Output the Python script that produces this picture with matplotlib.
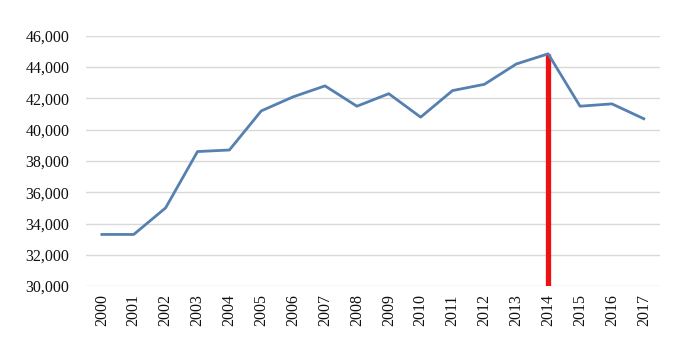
import numpy as np
import matplotlib.pyplot as plt
from matplotlib.ticker import FuncFormatter

years = [str(y) for y in range(2000, 2018)]
values = [33300, 33300, 35000, 38600, 38700, 41200, 42100, 42800, 41500,
          42300, 40800, 42500, 42900, 44200, 44850, 41500, 41650, 40700]
highlight_year = "2014"

plt.rcParams['font.family'] = ['Liberation Serif', 'DejaVu Serif']

fig = plt.figure(figsize=(6.93, 3.48), dpi=100)
ax = fig.add_axes([0.124, 0.178, 0.828, 0.719])

x = np.arange(len(years))
ax.plot(x, values, color='#5580b0', linewidth=2.0, zorder=3)

# red marker bar from the axis floor up to the highlighted year's value
hi = years.index(highlight_year)
ax.vlines(x[hi], 30000, values[hi], color='#ee1111', linewidth=3.8, zorder=2)

ax.set_xlim(-0.5, len(years) - 0.5)
ax.set_ylim(30000, 46000)
ax.set_yticks(np.arange(30000, 46001, 2000))
ax.yaxis.set_major_formatter(FuncFormatter(lambda v, p: "{:,.0f}".format(v)))
ax.set_xticks(x)
ax.set_xticklabels(years, rotation=90)

ax.grid(axis='y', color='#d9d9d9', linewidth=1.0, zorder=0)
for s in ax.spines.values():
    s.set_visible(False)
ax.tick_params(length=0, labelsize=11.5, colors='#111111')
ax.tick_params(axis='y', pad=12)
ax.tick_params(axis='x', pad=6)

plt.savefig("out.png")
